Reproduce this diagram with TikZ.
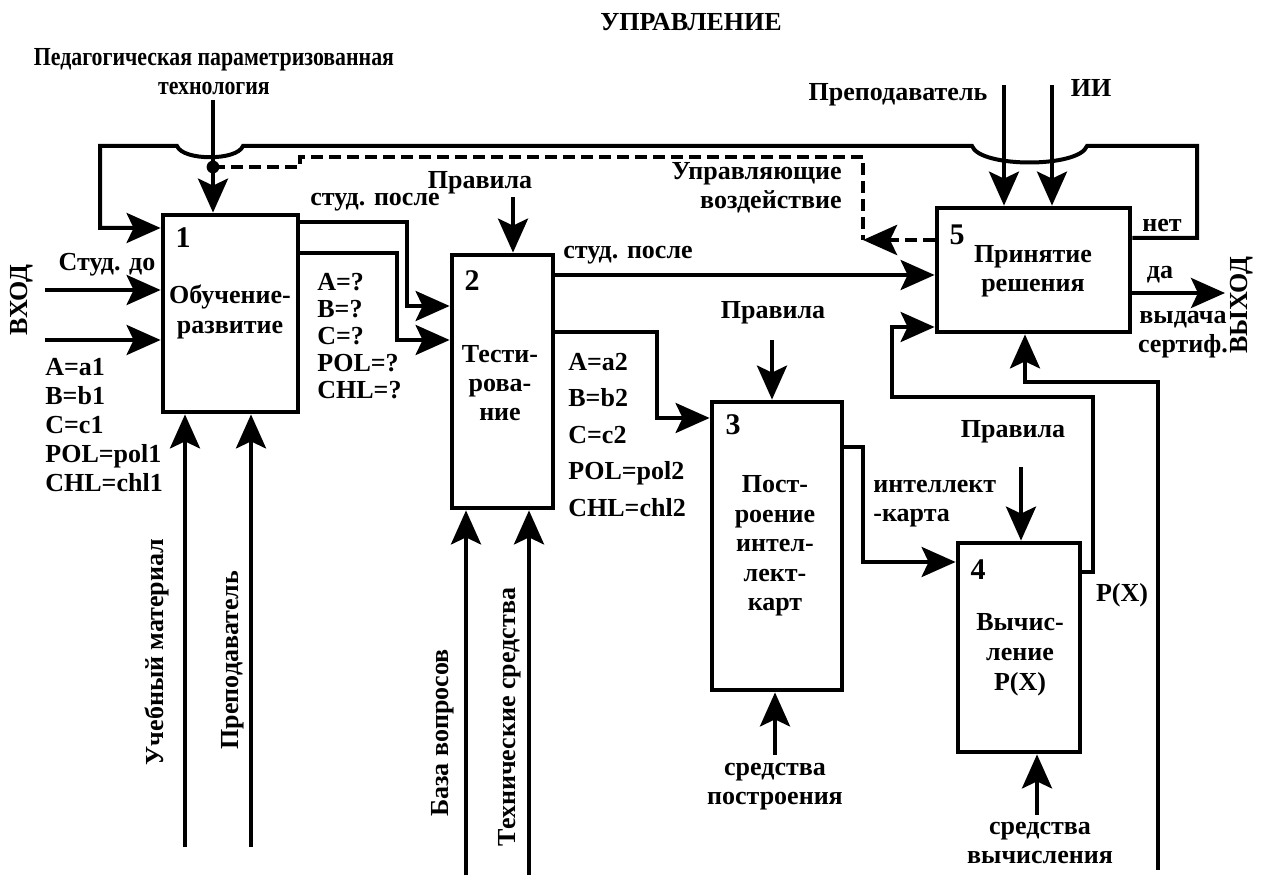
\documentclass[tikz,border=0pt]{standalone}
\usepackage{fontspec}
\setmainfont{Liberation Serif}
\newfontfamily\condfont{Liberation Serif}[FakeStretch=0.84]
\usetikzlibrary{arrows.meta,fit}
\begin{document}
\begin{tikzpicture}[x=0.5pt,y=-0.5pt,
  box/.style={draw, line width=2.4pt, inner sep=0pt},
  conn/.style={line width=2pt, -{Stealth[length=17pt,width=15pt,inset=3.5pt]}},
  dashline/.style={line width=2.4pt, dash pattern=on 6pt off 3pt},
  lbl/.style={font=\bfseries\fontsize{13}{14.5}\selectfont, align=center, inner sep=0pt},
  num/.style={font=\bfseries\fontsize{15}{16}\selectfont, inner sep=0pt}]
\useasboundingbox (0,0) rectangle (1264,881);

% boxes
\node[box, fit={(163,215) (298,412)}] (b1) {};
\node[box, fit={(452,255) (553,508)}] (b2) {};
\node[box, fit={(712,402) (842,690)}] (b3) {};
\node[box, fit={(958,543) (1080,752)}] (b4) {};
\node[box, fit={(937,208) (1130,332)}] (b5) {};

% numbers
\node[num] (n1) at (183,238) {1};
\node[num] (n2) at (472,281) {2};
\node[num] (n3) at (733,425) {3};
\node[num] (n4) at (978,570) {4};
\node[num] (n5) at (957,235) {5};

% box texts
\node[lbl, font=\bfseries\fontsize{13}{15}\selectfont] (t1) at (230,312) {Обучение-\\развитие};
\node[lbl] (t2) at (500,383) {Тести-\\рова-\\ние};
\node[lbl, font=\bfseries\fontsize{13}{14.75}\selectfont] (t3) at (775,546) {Пост-\\роение\\интел-\\лект-\\карт};
\node[lbl, font=\bfseries\fontsize{13}{15}\selectfont] (t4) at (1020,655) {Вычис-\\ление\\P(X)};
\node[lbl] (t5) at (1033,271) {Принятие\\решения};

% labels
\node[lbl] (lupr) at (691,22) {УПРАВЛЕНИЕ};
\node[lbl, font=\condfont\bfseries\fontsize{13}{14.5}\selectfont] (lped) at (214,72) {Педагогическая параметризованная\\технология};
\node[lbl] (lprep) at (898,95) {Преподаватель};
\node[lbl] (lii) at (1091,88) {ИИ};
\node[lbl] (lpr2) at (480,183) {Правила};
\node[lbl] (lsp1) at (375,202) {студ. после};
\node[lbl, align=right, anchor=east] (lupv) at (842,188) {Управляющие\\воздействие};
\node[lbl] (lsd) at (107,265) {Студ. до};
\node[lbl, rotate=90] (lvh) at (22,300) {ВХОД};
\node[lbl, align=left, anchor=west, font=\bfseries\fontsize{13}{14.5}\selectfont] (lp1) at (45,425) {A=a1\\B=b1\\C=c1\\POL=pol1\\CHL=chl1};
\node[lbl, align=left, anchor=west, font=\bfseries\fontsize{13}{13.5}\selectfont] (lp2) at (317,336) {A=?\\B=?\\C=?\\POL=?\\CHL=?};
\node[lbl] (lsp2) at (628,255) {студ. после};
\node[lbl, align=left, anchor=west, font=\bfseries\fontsize{13}{18.25}\selectfont] (lp3) at (568,435) {A=a2\\B=b2\\C=c2\\POL=pol2\\CHL=chl2};
\node[lbl] (lpr3) at (773,313) {Правила};
\node[lbl, align=left, anchor=west] (lik) at (873,504) {интеллект\\-карта};
\node[lbl] (lpr4) at (1013,432) {Правила};
\node[lbl] (lpx) at (1122,595) {P(X)};
\node[lbl] (lnet) at (1162,226) {нет};
\node[lbl] (lda) at (1160,275) {да};
\node[lbl] (lvyd) at (1183,335) {выдача\\сертиф.};
\node[lbl, rotate=90] (lvyh) at (1242,305) {ВЫХОД};
\node[lbl, rotate=90] (lum) at (157,652) {Учебный материал};
\node[lbl, rotate=90] (lpb) at (233,660) {Преподаватель};
\node[lbl, rotate=90] (lbv) at (443,733) {База вопросов};
\node[lbl, rotate=90] (lts) at (510,717) {Технические средства};
\node[lbl] (lsp) at (775,787) {средства\\построения};
\node[lbl] (lsv) at (1040,843) {средства\\вычисления};

% free ends
\coordinate (ped) at (213,100);
\coordinate (pdot) at (213,167);
\coordinate (in1) at (45,290);
\coordinate (in2) at (45,340);
\coordinate (um) at (185,847);
\coordinate (pb) at (251,847);
\coordinate (pr2) at (513,197);
\coordinate (bv) at (466,875);
\coordinate (ts) at (529,875);
\coordinate (pr3) at (772,340);
\coordinate (sp) at (775,755);
\coordinate (pr4) at (1021,467);
\coordinate (sv) at (1037,815);
\coordinate (ext) at (1158,870);
\coordinate (prep) at (1004,85);
\coordinate (ii) at (1052,85);
\coordinate (out) at (1225,293);
\coordinate (dcorner) at (863,240);

% feedback loop "нет"
\draw[conn] (b5.east |- 0,238) -- (1197,238) -- (1197,146) -- (1087,146)
  .. controls (1079,168) and (980,168) .. (972,146) -- (243,146)
  .. controls (237,161) and (183,161) .. (177,146) -- (100,146) -- (100,228)
  -- (b1.west |- 0,228);

% pedagogical technology
\draw[conn] (ped) -- (b1.north -| 213,0);
\fill (pdot) circle (3.2pt);
\draw[dashline] (pdot) -- (300,167) -- (300,157) -- (863,157) -- (dcorner);
\draw[dashline, -{Stealth[length=17pt,width=15pt,inset=3.5pt]}] (b5.west |- 0,240) -- (dcorner);

% inputs to box 1
\draw[conn] (in1) -- (b1.west |- 0,290);
\draw[conn] (in2) -- (b1.west |- 0,340);
\draw[conn] (um) -- (b1.south -| 185,0);
\draw[conn] (pb) -- (b1.south -| 251,0);

% box 1 -> box 2
\draw[conn] (b1.east |- 0,222) -- (407,222) -- (407,306) -- (b2.west |- 0,306);
\draw[conn] (b1.east |- 0,253) -- (397,253) -- (397,340) -- (b2.west |- 0,340);
\draw[conn] (pr2) -- (b2.north -| 513,0);
\draw[conn] (bv) -- (b2.south -| 466,0);
\draw[conn] (ts) -- (b2.south -| 529,0);

% box 2 -> box 5, box 3
\draw[conn] (b2.east |- 0,275) -- (b5.west |- 0,275);
\draw[conn] (b2.east |- 0,332) -- (657,332) -- (657,418) -- (b3.west |- 0,418);

% box 3
\draw[conn] (pr3) -- (b3.north -| 772,0);
\draw[conn] (sp) -- (b3.south -| 775,0);
\draw[conn] (b3.east |- 0,447) -- (863,447) -- (863,562) -- (b4.west |- 0,562);

% box 4
\draw[conn] (pr4) -- (b4.north -| 1021,0);
\draw[conn] (sv) -- (b4.south -| 1037,0);
\draw[conn] (b4.east |- 0,572) -- (1093,572) -- (1093,397) -- (892,397) -- (892,327) -- (b5.west |- 0,327);

% box 5
\draw[conn] (ext) -- (1158,382) -- (1025,382) -- (b5.south -| 1025,0);
\draw[conn] (prep) -- (b5.north -| 1004,0);
\draw[conn] (ii) -- (b5.north -| 1052,0);
\draw[conn] (b5.east |- 0,293) -- (out);
\end{tikzpicture}
\end{document}
